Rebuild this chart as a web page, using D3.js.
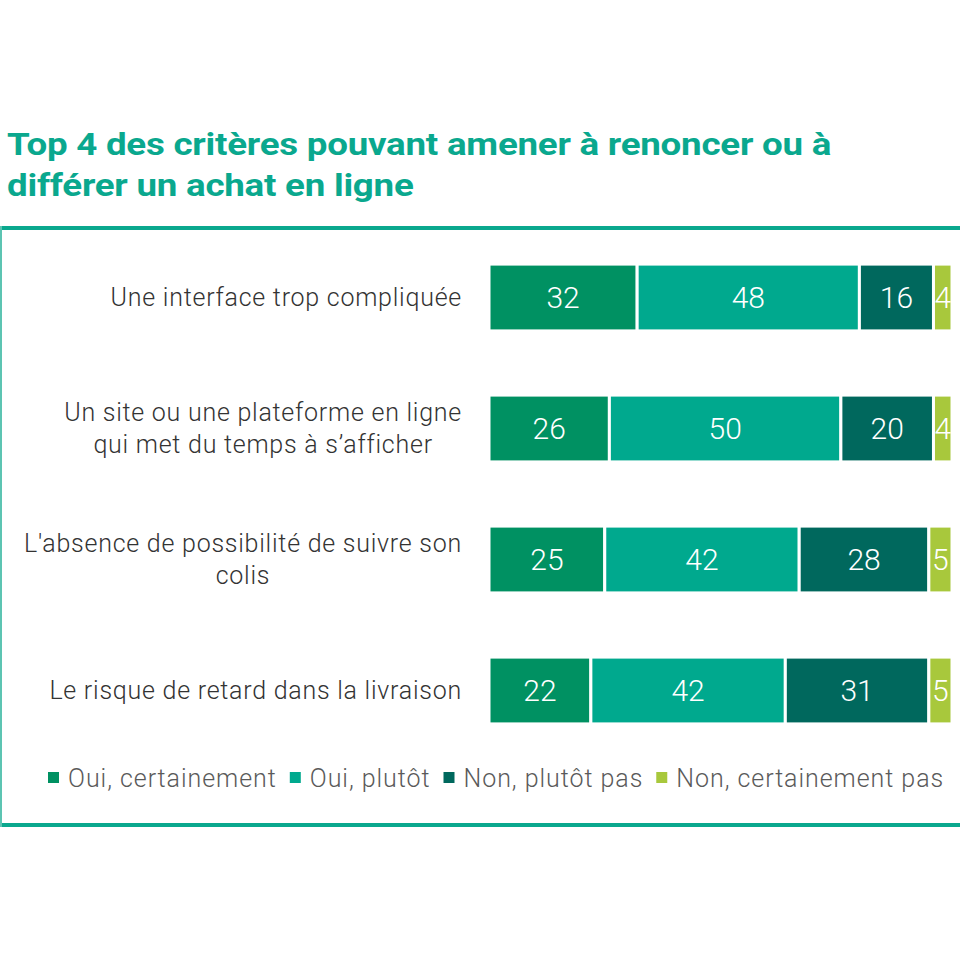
<!DOCTYPE html>
<html>
<head>
<meta charset="utf-8">
<script src="https://cdn.jsdelivr.net/npm/d3@7"></script>
<style>
  body { margin: 0; background: #fff; }
  svg text { font-family: Roboto, "Noto Sans", sans-serif; }
</style>
</head>
<body>
<div id="chart"></div>
<script>

// data
var categories = [
    [ "Une interface trop compliquée" ],
    [ "Un site ou une plateforme en ligne", "qui met du temps à s’afficher" ],
    [ "L'absence de possibilité de suivre son", "colis" ],
    [ "Le risque de retard dans la livraison" ]
];
var series_names = [ "Oui, certainement", "Oui, plutôt", "Non, plutôt pas", "Non, certainement pas" ];
var oui_certainement     = [ 32, 26, 25, 22 ];
var oui_plutot           = [ 48, 50, 42, 42 ];
var non_plutot_pas       = [ 16, 20, 28, 31 ];
var non_certainement_pas = [ 4, 4, 5, 5 ];
var title_lines = [ "Top 4 des critères pouvant amener à renoncer ou à", "différer un achat en ligne" ];

// --------------------------------------------------------

var chart_width  = 960;
var chart_height = 960;
var colors       = [ "#009162", "#00a98e", "#00685d", "#a8c83c" ];
var teal         = "#0aa88e";

var svg = d3.select("#chart")
    .append("svg")
    .attr("width", chart_width)
    .attr("height", chart_height);

// title (stretched a bit horizontally, the original face is wider)
svg.append("g")
    .attr("transform", "translate(7,0) scale(1.185,1)")
    .selectAll("text")
    .data(title_lines)
    .enter()
    .append("text")
    .attr("x", 0)
    .attr("y", (d, i) => 155 + i * 41)
    .attr("fill", teal)
    .attr("font-size", 31)
    .attr("font-weight", 700)
    .attr("letter-spacing", -0.2)
    .text(d => d);

// frame: thick top / bottom rules, thin left rule
svg.append("rect").attr("x", 0).attr("y", 226).attr("width", chart_width).attr("height", 4).attr("fill", teal);
svg.append("rect").attr("x", 0).attr("y", 823).attr("width", chart_width).attr("height", 4).attr("fill", teal);
svg.append("rect").attr("x", 0).attr("y", 226).attr("width", 2).attr("height", 601).attr("fill", "#5cc4b2");

// --------------------------------------------------------

// rows as table for the stack
var rows = categories.map((c, i) => ({
    idx: i,
    "Oui, certainement": oui_certainement[i],
    "Oui, plutôt": oui_plutot[i],
    "Non, plutôt pas": non_plutot_pas[i],
    "Non, certainement pas": non_certainement_pas[i]
}));

var stacked = d3.stack().keys(series_names)(rows);

var x_scale = d3.scaleLinear()
    .domain([0, 100])
    .range([489, 952]);

var y_scale = d3.scaleBand()
    .domain(d3.range(categories.length))
    .range([232, 756])
    .paddingInner(0.49)
    .paddingOuter(0.245);

var layers = svg.append("g")
    .selectAll("g")
    .data(stacked)
    .enter()
    .append("g")
    .attr("fill", (d, i) => colors[i]);

layers.selectAll("rect")
    .data(d => d)
    .enter()
    .append("rect")
    .attr("x", d => x_scale(d[0]))
    .attr("y", (d, i) => y_scale(i))
    .attr("width", d => x_scale(d[1]) - x_scale(d[0]))
    .attr("height", y_scale.bandwidth())
    .attr("stroke", "#fff")
    .attr("stroke-width", 3);

// values inside segments
layers.selectAll("text")
    .data(d => d)
    .enter()
    .append("text")
    .attr("x", d => (x_scale(d[0]) + x_scale(d[1])) / 2)
    .attr("y", (d, i) => y_scale(i) + y_scale.bandwidth() / 2)
    .attr("dy", "0.36em")
    .attr("text-anchor", "middle")
    .attr("fill", "#fff")
    .attr("font-size", 30)
    .attr("font-weight", 300)
    .text(d => d[1] - d[0]);

// category labels: first line flush right, next lines centred under it
var label_right = 462;
var labels = svg.append("g")
    .selectAll("text")
    .data(categories)
    .enter()
    .append("text")
    .attr("fill", "#333")
    .attr("font-size", 25)
    .attr("font-weight", 300)
    .attr("letter-spacing", 0.75);

labels.each(function (lines, r) {
    var cy = y_scale(r) + y_scale.bandwidth() / 2;
    var el = d3.select(this);
    var first = el.append("tspan")
        .attr("x", label_right)
        .attr("y", cy + 8 - (lines.length - 1) * 16)
        .attr("text-anchor", "end")
        .text(lines[0]);
    var mid = label_right - first.node().getComputedTextLength() / 2;
    lines.slice(1).forEach((line, j) => {
        el.append("tspan")
            .attr("x", mid)
            .attr("y", cy + 8 - (lines.length - 1) * 16 + (j + 1) * 32)
            .attr("text-anchor", "middle")
            .text(line);
    });
});

// --------------------------------------------------------

// legend
var legend = svg.append("g").attr("transform", "translate(0, 778)");
var lx = 48;
series_names.forEach((name, i) => {
    legend.append("rect")
        .attr("x", lx)
        .attr("y", -6)
        .attr("width", 11)
        .attr("height", 11)
        .attr("fill", colors[i]);
    var t = legend.append("text")
        .attr("x", lx + 20)
        .attr("dy", "0.35em")
        .attr("fill", "#5a5a5a")
        .attr("font-size", 25)
        .attr("font-weight", 300)
        .attr("letter-spacing", 0.95)
        .text(name);
    lx += 20 + t.node().getComputedTextLength() + 13;
});

</script>
</body>
</html>
